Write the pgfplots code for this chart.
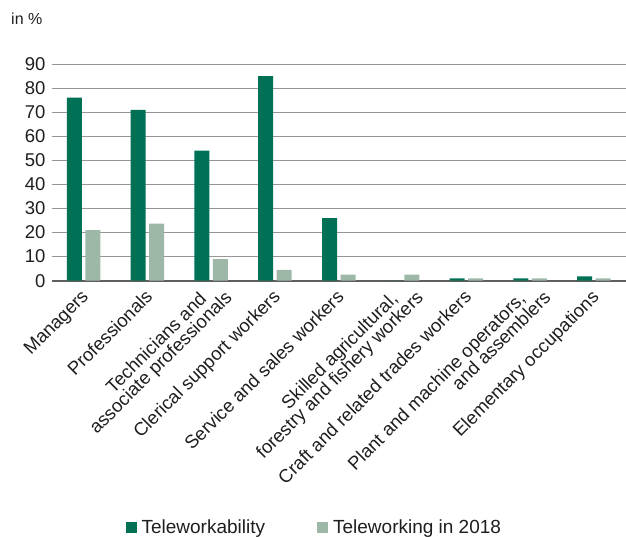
\documentclass[border=0pt]{standalone}
\usepackage{fontspec}
\setmainfont{Liberation Sans}
\usepackage{pgfplots}
\usetikzlibrary{calc}
\pgfplotsset{compat=1.18}
\definecolor{darkg}{RGB}{0,113,85}
\definecolor{lightg}{RGB}{158,184,168}
\definecolor{gridc}{RGB}{150,150,150}
\definecolor{axc}{RGB}{95,95,95}
\definecolor{txt}{RGB}{30,30,30}
\newcommand{\tightfont}{\fontsize{18.5}{17}\selectfont\lineskiplimit=-50pt\relax}
\tikzset{
  catone/.style={rotate=45, anchor=north east, inner sep=0pt, text=txt,
    font=\fontsize{18.5}{17}\selectfont},
  cattwo/.style={rotate=45, anchor=north east, inner sep=0pt, text=txt, align=right,
    font=\tightfont},
}
\begin{document}
\begin{tikzpicture}[x=1pt,y=1pt]
\useasboundingbox (0,0) rectangle (626,536);
\node[anchor=base west, inner sep=0pt, font=\fontsize{16}{19}\selectfont, text=txt] at (11,511) {in \%};
\begin{axis}[
  at={(52pt,255.3pt)}, anchor=south west,
  scale only axis, width=574pt, height=216.7pt,
  xmin=-0.5, xmax=8.5, ymin=0, ymax=90,
  ytick={0,10,...,90},
  xtick=\empty,
  yticklabel style={font=\fontsize{18.5}{20}\selectfont, text=txt, xshift=-3pt},
  /pgf/number format/assume math mode=true,
  major tick length=0pt,
  axis x line=bottom, axis y line=left,
  y axis line style={draw=none},
  x axis line style={-, draw=axc, line width=1.6pt},
  ymajorgrids, grid style={gridc, line width=0.9pt},
  legend columns=2,
  legend style={at={(0.457,-1.139)}, anchor=center, draw=none, fill=none,
    font=\fontsize{19}{20}\selectfont, text=txt,
    /tikz/every odd column/.style={column sep=3pt},
    /tikz/every even column/.style={column sep=50pt}},
  legend image code/.code={\fill[#1] (0pt,-5.5pt) rectangle (11pt,5.5pt);},
  clip=false,
]
\addplot[ybar, bar width=15pt, bar shift=-9.5pt, fill=darkg, draw=none] coordinates {
 (0,76) (1,71) (2,54) (3,85) (4,26) (5,0) (6,1) (7,1) (8,1.8)};
\addplot[ybar, bar width=15pt, bar shift=9pt, fill=lightg, draw=none] coordinates {
 (0,21) (1,23.7) (2,9) (3,4.5) (4,2.5) (5,2.5) (6,1) (7,1) (8,1)};
\legend{Teleworkability, Teleworking in 2018}
\node[catone] at ($(axis cs:0,0)+(-3.6pt,-7.7pt)$) {Managers};
\node[catone] at ($(axis cs:1,0)+(-3.6pt,-7.7pt)$) {Professionals};
\node[cattwo] at ($(axis cs:2,0)+(-0.1pt,3.6pt)$) {Technicians and\hspace*{19pt}\\associate professionals};
\node[catone] at ($(axis cs:3,0)+(-3.6pt,-7.7pt)$) {Clerical support workers};
\node[catone] at ($(axis cs:4,0)+(-3.6pt,-7.7pt)$) {Service and sales workers};
\node[cattwo] at ($(axis cs:5,0)+(-0.1pt,3.6pt)$) {Skilled agricultural,\hspace*{19pt}\\forestry and fishery workers};
\node[catone] at ($(axis cs:6,0)+(-3.6pt,-7.7pt)$) {Craft and related trades workers};
\node[cattwo] at ($(axis cs:7,0)+(-0.1pt,3.6pt)$) {Plant and machine operators,\hspace*{19pt}\\and assemblers};
\node[catone] at ($(axis cs:8,0)+(-3.6pt,-7.7pt)$) {Elementary occupations};
\end{axis}
\end{tikzpicture}
\end{document}
